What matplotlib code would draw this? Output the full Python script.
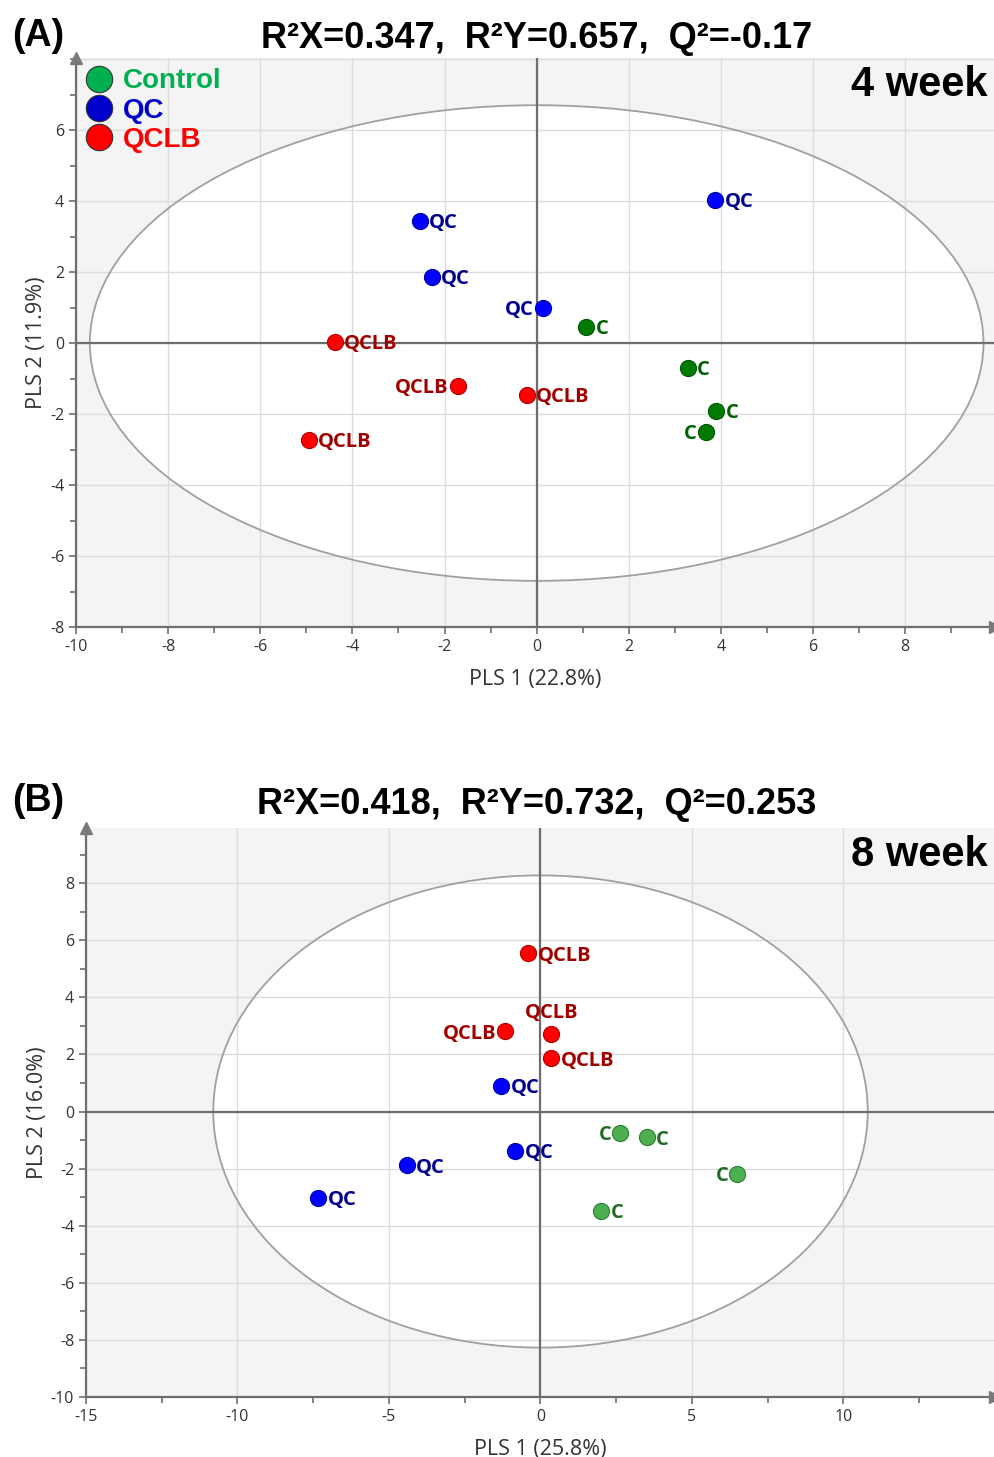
import numpy as np
import matplotlib.pyplot as plt
from matplotlib.patches import Ellipse
from matplotlib.lines import Line2D
from matplotlib.ticker import MultipleLocator

plt.rcParams['axes.unicode_minus'] = False

# ---- panel A : 4 week ----
a_ctrl_x = [1.08, 3.28, 3.90, 3.67]
a_ctrl_y = [0.45, -0.70, -1.92, -2.51]
a_ctrl_side = ['r', 'r', 'r', 'l']
a_qc_x = [3.88, -2.54, -2.28, 0.13]
a_qc_y = [4.03, 3.44, 1.86, 0.99]
a_qc_side = ['r', 'r', 'r', 'l']
a_qclb_x = [-4.38, -1.71, -0.22, -4.95]
a_qclb_y = [0.03, -1.21, -1.46, -2.73]
a_qclb_side = ['r', 'l', 'r', 'r']
a_ellipse = (9.7, 6.7)

# ---- panel B : 8 week ----
b_ctrl_x = [2.64, 3.50, 6.50, 2.01]
b_ctrl_y = [-0.74, -0.91, -2.18, -3.47]
b_ctrl_side = ['l', 'r', 'l', 'r']
b_qc_x = [-1.29, -0.83, -4.42, -7.33]
b_qc_y = [0.91, -1.37, -1.89, -3.02]
b_qc_side = ['r', 'r', 'r', 'r']
b_qclb_x = [-0.40, -1.16, 0.36, 0.36]
b_qclb_y = [5.54, 2.81, 2.70, 1.86]
b_qclb_side = ['r', 'l', 'u', 'r']
b_ellipse = (10.8, 8.27)

label_font = ['Open Sans', 'DejaVu Sans']
tick_font = ['Open Sans', 'DejaVu Sans']
title_font = ['Liberation Sans', 'DejaVu Sans']

fig = plt.figure(figsize=(9.95, 14.57), dpi=100)
axA = fig.add_axes([76/995, (1457-627)/1457, (995-76)/995, 569/1457])
axB = fig.add_axes([86/995, (1457-1397)/1457, (995-86)/995, 569/1457])


def style_axes(ax, xlim, ylim, xmaj, xmin, ymaj, ymin, xticks, yticks):
    ax.set_xlim(*xlim)
    ax.set_ylim(*ylim)
    ax.set_facecolor('#f4f4f4')
    ax.set_xticks(xticks)
    ax.set_yticks(yticks)
    ax.xaxis.set_minor_locator(MultipleLocator(xmin))
    ax.yaxis.set_minor_locator(MultipleLocator(ymin))
    ax.set_axisbelow(True)
    for v in np.arange(xlim[0], xlim[1], xmaj):
        ax.axvline(v, color='#dcdcdc', lw=1.0, zorder=0.5)
    for v in np.arange(ylim[0], ylim[1], ymaj):
        ax.axhline(v, color='#dcdcdc', lw=1.0, zorder=0.5)
    for s in ['top', 'right']:
        ax.spines[s].set_visible(False)
    for s in ['left', 'bottom']:
        ax.spines[s].set_color('#6e6e6e')
        ax.spines[s].set_linewidth(1.6)
    ax.tick_params(which='both', direction='out', color='#6e6e6e', width=1.2)
    ax.tick_params(which='major', length=5, labelsize=11.5, labelcolor='#333333')
    ax.tick_params(which='minor', length=4)
    for t in ax.get_xticklabels() + ax.get_yticklabels():
        t.set_family(tick_font)
    # arrows at the axis ends
    ax.plot([1], [0], marker='>', ms=9, color='#7a7a7a', transform=ax.transAxes, clip_on=False, zorder=6)
    ax.plot([0], [1], marker='^', ms=9, color='#7a7a7a', transform=ax.transAxes, clip_on=False, zorder=6)
    ax.axhline(0, color='#6e6e6e', lw=1.6, zorder=1.6)
    ax.axvline(0, color='#6e6e6e', lw=1.6, zorder=1.6)


def draw_group(ax, xs, ys, sides, face, edge, txtcol, name, dx, dy):
    ax.scatter(xs, ys, s=135, color=face, edgecolors=edge, linewidths=0.8, zorder=3)
    for x, y, sd in zip(xs, ys, sides):
        if sd == 'r':
            ax.text(x + dx, y - dy, name, color=txtcol, fontsize=14.5, fontweight='bold',
                    family=label_font, ha='left', va='center', zorder=4)
        elif sd == 'l':
            ax.text(x - dx, y - dy, name, color=txtcol, fontsize=14.5, fontweight='bold',
                    family=label_font, ha='right', va='center', zorder=4)
        else:
            ax.text(x, y + 5 * dy, name, color=txtcol, fontsize=14.5, fontweight='bold',
                    family=label_font, ha='center', va='bottom', zorder=4)


# ---------------- panel A ----------------
style_axes(axA, (-10, 9.95), (-8, 8.03), 2, 1, 2, 1,
           np.arange(-10, 9, 2), np.arange(-8, 7, 2))
axA.add_patch(Ellipse((0, 0), 2 * a_ellipse[0], 2 * a_ellipse[1], facecolor='white',
                      edgecolor='none', zorder=0.3))
axA.add_patch(Ellipse((0, 0), 2 * a_ellipse[0], 2 * a_ellipse[1], facecolor='none',
                      edgecolor='#a0a0a0', lw=1.3, zorder=1.5))
draw_group(axA, a_ctrl_x, a_ctrl_y, a_ctrl_side, '#007a00', '#005500', '#006000', 'C', 0.2, 0.05)
draw_group(axA, a_qc_x, a_qc_y, a_qc_side, '#0000ff', '#0000aa', '#00008b', 'QC', 0.2, 0.05)
draw_group(axA, a_qclb_x, a_qclb_y, a_qclb_side, '#ff0000', '#b00000', '#a00000', 'QCLB', 0.2, 0.05)
axA.set_xlabel('PLS 1 (22.8%)', fontsize=15.5, color='#333333', family=label_font, labelpad=10)
axA.set_ylabel('PLS 2 (11.9%)', fontsize=15.5, color='#333333', family=label_font, labelpad=2)

handles = [Line2D([], [], ls='none', marker='o', ms=19, mfc=c, mec='#333333', mew=0.8)
           for c in ['#00b050', '#0000cc', '#ff0000']]
leg = axA.legend(handles, ['Control', 'QC', 'QCLB'], loc='upper left', bbox_to_anchor=(-0.011, 1.016),
                 frameon=False, handlelength=1.0, handletextpad=0.35, labelspacing=0.12,
                 prop={'family': title_font, 'weight': 'bold', 'size': 20}, borderaxespad=0.3)
for t, c in zip(leg.get_texts(), ['#00b050', '#0000cc', '#ff0000']):
    t.set_color(c)
axA.text(0.992, 0.987, '4 week', transform=axA.transAxes, ha='right', va='top',
         fontsize=30, fontweight='bold', family=title_font, zorder=5)

# ---------------- panel B ----------------
style_axes(axB, (-15, 15.0), (-10, 9.93), 5, 2.5, 2, 1,
           np.arange(-15, 11, 5), np.arange(-10, 9, 2))
axB.add_patch(Ellipse((0, 0), 2 * b_ellipse[0], 2 * b_ellipse[1], facecolor='white',
                      edgecolor='none', zorder=0.3))
axB.add_patch(Ellipse((0, 0), 2 * b_ellipse[0], 2 * b_ellipse[1], facecolor='none',
                      edgecolor='#a0a0a0', lw=1.3, zorder=1.5))
draw_group(axB, b_ctrl_x, b_ctrl_y, b_ctrl_side, '#4caf50', '#2e7d32', '#216a21', 'C', 0.3, 0.08)
draw_group(axB, b_qc_x, b_qc_y, b_qc_side, '#0000ff', '#0000aa', '#00008b', 'QC', 0.3, 0.08)
draw_group(axB, b_qclb_x, b_qclb_y, b_qclb_side, '#ff0000', '#b00000', '#a00000', 'QCLB', 0.3, 0.08)
axB.set_xlabel('PLS 1 (25.8%)', fontsize=15.5, color='#333333', family=label_font, labelpad=10)
axB.set_ylabel('PLS 2 (16.0%)', fontsize=15.5, color='#333333', family=label_font, labelpad=2)
axB.text(0.992, 0.987, '8 week', transform=axB.transAxes, ha='right', va='top',
         fontsize=30, fontweight='bold', family=title_font, zorder=5)

# ---------------- titles ----------------
fig.text(0.012, 1 - 36/1457, '(A)', fontsize=27, fontweight='bold', family=title_font, va='center')
fig.text(537/995, 1 - 38/1457, 'R²X=0.347,  R²Y=0.657,  Q²=-0.17', fontsize=26, fontweight='bold',
         family=title_font, ha='center', va='center')
fig.text(0.012, 1 - 801/1457, '(B)', fontsize=27, fontweight='bold', family=title_font, va='center')
fig.text(537/995, 1 - 805/1457, 'R²X=0.418,  R²Y=0.732,  Q²=0.253', fontsize=26, fontweight='bold',
         family=title_font, ha='center', va='center')

fig.savefig('out.png', dpi=100)
